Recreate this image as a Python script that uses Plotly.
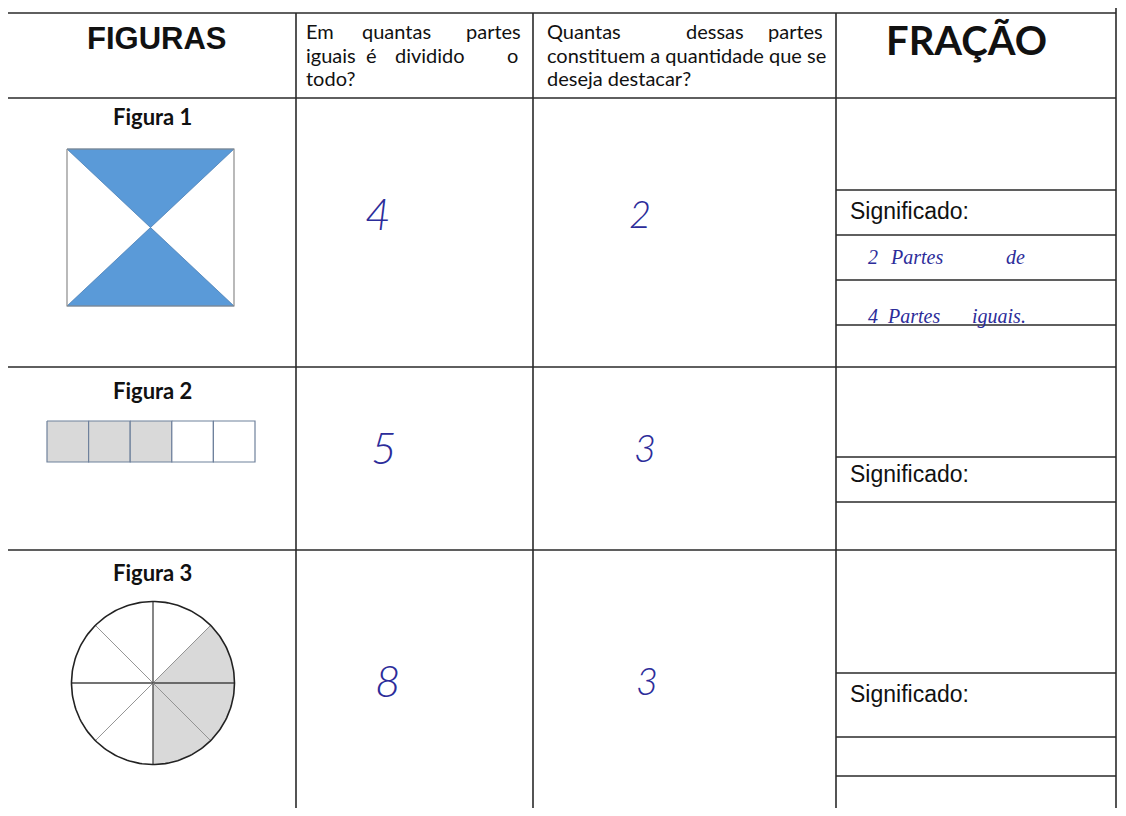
import numpy as np
import plotly.graph_objects as go

# ---------------- data ----------------
header_left = "FIGURAS"
header_right = "FRAÇÃO"
q1_lines = [["Em", "quantas", "partes"], ["iguais", "é", "dividido", "o"], ["todo?"]]
q2_lines = [["Quantas", "dessas", "partes"], ["constituem a quantidade que se"], ["deseja destacar?"]]
figure_labels = ["Figura 1", "Figura 2", "Figura 3"]
total_parts = [4, 5, 8]
shaded_parts = [2, 3, 3]
answer_total = ["4", "5", "8"]
answer_shaded = ["2", "3", "3"]
meaning_label = "Significado:"
meaning_words = [["2", "Partes", "de"], ["4", "Partes", "iguais."]]

# ---------------- layout constants (page pixels) ----------------
FW, FH = 1110, 800   # figure size (fits inside the page body, which has an 8px margin)
OFF = 8              # browser body margin
col_x = [3, 296, 533, 836, 1116]
row_y = [13, 98, 367, 550, 815]
frac_lines = [[190, 235, 280, 325], [457, 502], [673, 737, 776]]
sig_y = [211, 474, 694]

LINE = "#2a2a2a"
INK = "#2c2c9a"
BLUE = "#5a9ad8"
GREY = "#d9d9d9"

fig = go.Figure()
shapes = []
ann = []


def hline(y, x0, x1, color=LINE, w=1.6):
    shapes.append(dict(type="line", xref="x", yref="y", x0=x0, x1=x1, y0=y, y1=y,
                       line=dict(color=color, width=w), layer="above"))


def vline(x, y0, y1, color=LINE, w=1.6):
    shapes.append(dict(type="line", xref="x", yref="y", x0=x, x1=x, y0=y0, y1=y1,
                       line=dict(color=color, width=w), layer="above"))


def text(x, y, s, size, family, color="#111", xa="center", ya="middle", weight=None, style=None):
    f = dict(size=size, family=family, color=color)
    if weight is not None:
        f["weight"] = weight
    if style is not None:
        f["style"] = style
    ann.append(dict(x=x, y=y, xref="x", yref="y", text=s, showarrow=False,
                    xanchor=xa, yanchor=ya, font=f))


# table grid
for x in [col_x[0], col_x[-1]]:
    vline(x, 0, row_y[-1])
for x in col_x[1:-1]:
    vline(x, row_y[0], row_y[-1])
for y in row_y[:-1]:
    hline(y, col_x[0], col_x[-1])
for lines in frac_lines:
    for y in lines:
        hline(y, col_x[3], col_x[4], w=1.4)

# headers
text(157, 38, "<b>%s</b>" % header_left, 31, "Liberation Sans")
text(966, 40, "<b>%s</b>" % header_right, 40, "Lato")

hdr_y = [31, 55, 78]
HF = "Lato"
HS = 20
# question 1 (justified by hand)
text(304, hdr_y[0], q1_lines[0][0], HS, HF, xa="left")
text(360, hdr_y[0], q1_lines[0][1], HS, HF, xa="left")
text(523, hdr_y[0], q1_lines[0][2], HS, HF, xa="right")
text(304, hdr_y[1], q1_lines[1][0], HS, HF, xa="left")
text(364, hdr_y[1], q1_lines[1][1], HS, HF, xa="left")
text(393, hdr_y[1], q1_lines[1][2], HS, HF, xa="left")
text(520, hdr_y[1], q1_lines[1][3], HS, HF, xa="right")
text(304, hdr_y[2], q1_lines[2][0], HS, HF, xa="left")
# question 2
text(545, hdr_y[0], q2_lines[0][0], HS, HF, xa="left")
text(684, hdr_y[0], q2_lines[0][1], HS, HF, xa="left")
text(825, hdr_y[0], q2_lines[0][2], HS, HF, xa="right")
text(545, hdr_y[1], q2_lines[1][0], HS, HF, xa="left")
text(545, hdr_y[2], q2_lines[2][0], HS, HF, xa="left")

# figure labels
for lbl, y in zip(figure_labels, [116, 390, 572]):
    text(152, y, "<b>%s</b>" % lbl, 22, "Lato")

# ---- Figura 1: square split by diagonals into total_parts[0] triangles ----
sx0, sx1, sy0, sy1 = 67, 234, 149, 306
cx, cy = (sx0 + sx1) / 2, (sy0 + sy1) / 2
corners = [(sx0, sy0), (sx1, sy0), (sx1, sy1), (sx0, sy1)]
tris = []
for i in range(total_parts[0]):
    a, b = corners[i], corners[(i + 1) % 4]
    tris.append([a, b, (cx, cy)])
shade_idx = [0, 2][:shaded_parts[0]]  # top and bottom triangles
for i in shade_idx:
    t = tris[i]
    fig.add_trace(go.Scatter(x=[p[0] for p in t] + [t[0][0]], y=[p[1] for p in t] + [t[0][1]],
                             mode="lines", fill="toself", fillcolor=BLUE,
                             line=dict(color="#4a7fb5", width=0.8), hoverinfo="skip"))
fig.add_trace(go.Scatter(x=[sx0, sx1, sx1, sx0, sx0], y=[sy0, sy0, sy1, sy1, sy0], mode="lines",
                         line=dict(color="#8c8c8c", width=1.2), hoverinfo="skip"))

# ---- Figura 2: bar of total_parts[1] cells ----
bx0, bx1, by0, by1 = 47, 255, 421, 462
n2 = total_parts[1]
cw = (bx1 - bx0) / n2
for i in range(n2):
    x0 = bx0 + i * cw
    fig.add_trace(go.Scatter(x=[x0, x0 + cw, x0 + cw, x0, x0], y=[by0, by0, by1, by1, by0],
                             mode="lines", fill="toself",
                             fillcolor=GREY if i < shaded_parts[1] else "white",
                             line=dict(color="#6f819c", width=1.2), hoverinfo="skip"))

# ---- Figura 3: circle of total_parts[2] sectors ----
ccx, ccy, r = 153, 683, 81.5
n3 = total_parts[2]
step = 360 / n3
start = 45  # shaded sectors go clockwise from 45 deg
for k in range(shaded_parts[2]):
    a0 = start - k * step
    a1 = a0 - step
    th = np.radians(np.linspace(a0, a1, 30))
    xs = [ccx] + list(ccx + r * np.cos(th)) + [ccx]
    ys = [ccy] + list(ccy - r * np.sin(th)) + [ccy]
    fig.add_trace(go.Scatter(x=xs, y=ys, mode="lines", fill="toself", fillcolor=GREY,
                             line=dict(color="rgba(0,0,0,0)", width=0), hoverinfo="skip"))
for k in range(n3):
    ang = np.radians(k * step)
    major = (k % 2 == 0)
    fig.add_trace(go.Scatter(x=[ccx, ccx + r * np.cos(ang)], y=[ccy, ccy - r * np.sin(ang)],
                             mode="lines",
                             line=dict(color="#444" if major else "#8a8a8a", width=1.3 if major else 0.9),
                             hoverinfo="skip"))
th = np.radians(np.linspace(0, 360, 200))
fig.add_trace(go.Scatter(x=ccx + r * np.cos(th), y=ccy - r * np.sin(th), mode="lines",
                         line=dict(color="#222", width=1.6), hoverinfo="skip"))

# ---- handwritten answers ----
tot_pos = [(378, 213), (384, 447), (388, 680)]
sh_pos = [(640, 213), (645, 447), (647, 680)]
for s, (x, y) in zip(answer_total, tot_pos):
    text(x, y, s, 44, "Lato", color=INK, weight=300, style="italic")
for s, (x, y) in zip(answer_shaded, sh_pos):
    text(x, y, s, 38, "Lato", color=INK, weight=300, style="italic")

for y in sig_y:
    text(848, y, meaning_label, 23, "Liberation Sans", xa="left")

hw_x = [[866, 888, 1004], [866, 885, 970]]
hw_y = [257, 316]
for words, xs, y in zip(meaning_words, hw_x, hw_y):
    for w_, x in zip(words, xs):
        text(x, y, w_, 20, "Liberation Serif", color=INK, xa="left", style="italic")

fig.update_layout(
    width=FW, height=FH, margin=dict(l=0, r=0, t=0, b=0),
    paper_bgcolor="white", plot_bgcolor="white", showlegend=False,
    xaxis=dict(range=[OFF, FW + OFF], visible=False, fixedrange=True),
    yaxis=dict(range=[FH + OFF, OFF], visible=False, fixedrange=True),
    shapes=shapes, annotations=ann,
)
fig.write_html("out.html")
